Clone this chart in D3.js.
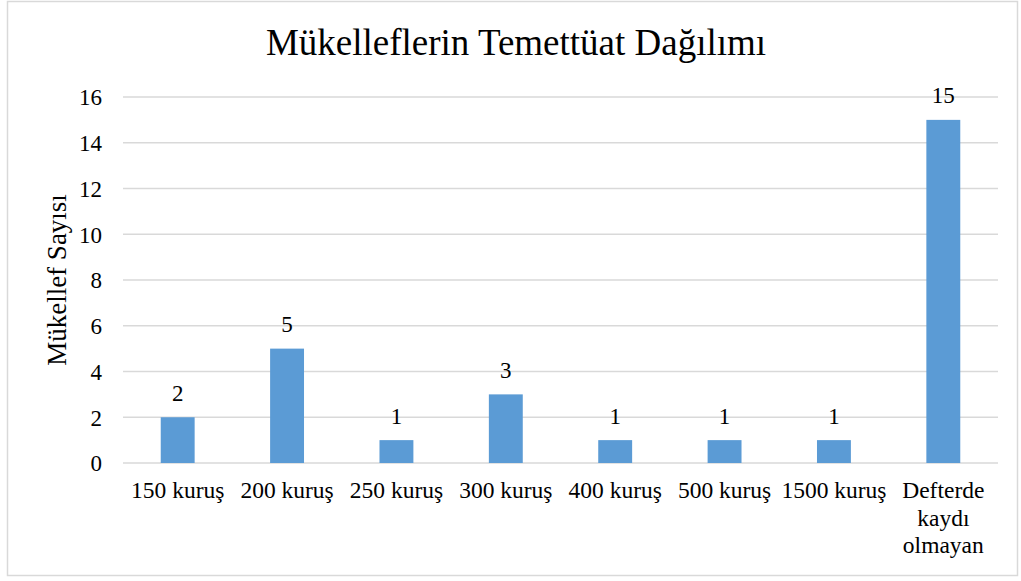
<!DOCTYPE html>
<meta charset="utf-8">
<style>
body { margin: 0; background: #fff; }
svg text { font-family: "Times New Roman", "Liberation Serif", Tinos, serif !important; fill: #000; }
.grid line { stroke: #d9d9d9; stroke-width: 1.5px; }
</style>
<body>
<div id="chart"></div>
</body>
<script src="https://cdnjs.cloudflare.com/ajax/libs/d3/7.8.5/d3.min.js"></script>
<script>

var categories = ["150 kuruş", "200 kuruş", "250 kuruş", "300 kuruş", "400 kuruş", "500 kuruş", "1500 kuruş", "Defterde kaydı olmayan"];
var counts = [2, 5, 1, 3, 1, 1, 1, 15];
var yTicks = [0, 2, 4, 6, 8, 10, 12, 14, 16];
var categoryLines = [["150 kuruş"], ["200 kuruş"], ["250 kuruş"], ["300 kuruş"], ["400 kuruş"], ["500 kuruş"], ["1500 kuruş"], ["Defterde", "kaydı", "olmayan"]];

var serif = "'Times New Roman', 'Liberation Serif', serif";
var W = 1021, H = 581;
var margin = {top: 97, right: 23, bottom: 118, left: 123},
    width = 998 - margin.left,
    height = 463 - margin.top;

var svg = d3.select("#chart").append("svg")
    .attr("width", W)
    .attr("height", H)
    .attr("font-family", serif);

// chart frame
svg.append("rect")
    .attr("x", 7.5).attr("y", 1.5)
    .attr("width", 1010).attr("height", 574)
    .attr("fill", "#fff")
    .attr("stroke", "#d9d9d9")
    .attr("stroke-width", 1.5);

svg.append("text")
    .attr("x", 516)
    .attr("y", 55)
    .attr("text-anchor", "middle")
    .style("font-size", "37px")
    .text("Mükelleflerin Temettüat Dağılımı");

var g = svg.append("g")
    .attr("transform", "translate(" + margin.left + "," + margin.top + ")");

var x = d3.scaleBand().domain(categories).range([0, width]).paddingInner(0.69).paddingOuter(0.345);
var y = d3.scaleLinear().domain([0, 16]).range([height, 0]);

// gridlines
g.append("g")
    .attr("class", "grid")
  .selectAll("line")
    .data(yTicks)
  .enter().append("line")
    .attr("x1", 0).attr("x2", width)
    .attr("y1", function(d) { return y(d); })
    .attr("y2", function(d) { return y(d); });

// y axis labels
var yAxis = d3.axisLeft(y).tickValues(yTicks).tickSize(0).tickPadding(21);
g.append("g")
    .attr("class", "y axis")
    .call(yAxis)
    .attr("font-family", serif)
    .attr("font-size", 23)
  .call(function(s) { s.select(".domain").remove(); })
  .selectAll("text")
    .attr("dy", "0.34em");

// bars
g.selectAll(".bar")
    .data(counts)
  .enter().append("rect")
    .attr("class", "bar")
    .attr("x", function(d, i) { return x(categories[i]); })
    .attr("width", x.bandwidth())
    .attr("y", function(d) { return y(d); })
    .attr("height", function(d) { return height - y(d); })
    .attr("fill", "#5b9bd5");

// value labels
g.selectAll(".val")
    .data(counts)
  .enter().append("text")
    .attr("class", "val")
    .attr("x", function(d, i) { return x(categories[i]) + x.bandwidth() / 2; })
    .attr("y", function(d) { return y(d) - 16.5; })
    .attr("text-anchor", "middle")
    .style("font-size", "23px")
    .text(function(d) { return d; });

// x labels (multi-line)
var xl = g.selectAll(".xlab")
    .data(categoryLines)
  .enter().append("text")
    .attr("class", "xlab")
    .attr("text-anchor", "middle")
    .style("font-size", "23.5px")
    .attr("transform", function(d, i) {
      return "translate(" + (x(categories[i]) + x.bandwidth() / 2) + "," + (height + 35) + ")";
    });
xl.selectAll("tspan")
    .data(function(d) { return d; })
  .enter().append("tspan")
    .attr("x", 0)
    .attr("y", function(d, i) { return i * 27.5; })
    .text(function(d) { return d; });

// y axis title
svg.append("text")
    .attr("transform", "translate(66," + (margin.top + height / 2) + ") rotate(-90)")
    .attr("text-anchor", "middle")
    .style("font-size", "27px")
    .text("Mükellef Sayısı");

</script>
